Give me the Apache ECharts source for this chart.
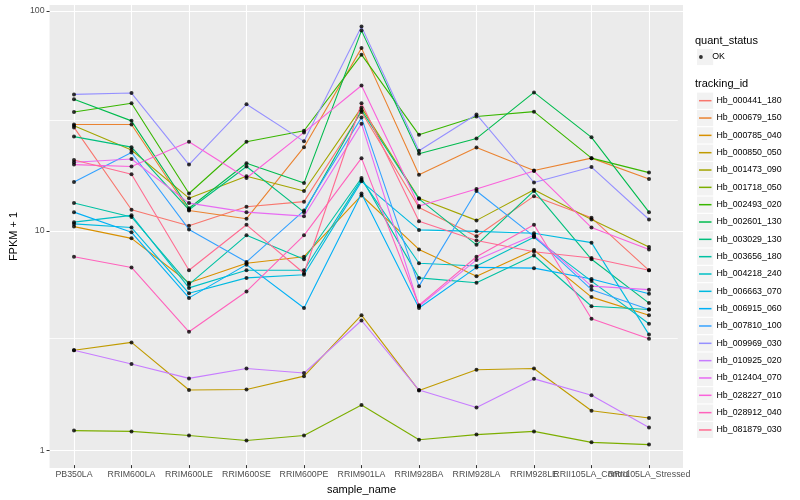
<!DOCTYPE html>
<html><head><meta charset="utf-8">
<script src="https://cdn.jsdelivr.net/npm/echarts@6/dist/echarts.min.js"></script>
<style>html,body{margin:0;padding:0;background:#fff}#c{width:800px;height:500px}</style>
</head><body><div id="c"></div>
<script>
const categories = ['PB350LA','RRIM600LA','RRIM600LE','RRIM600SE','RRIM600PE','RRIM901LA','RRIM928BA','RRIM928LA','RRIM928LE','RRII105LA_Control','RRII105LA_Stressed'];
const trackingIds = ['Hb_000441_180','Hb_000679_150','Hb_000785_040','Hb_000850_050','Hb_001473_090','Hb_001718_050','Hb_002493_020','Hb_002601_130','Hb_003029_130','Hb_003656_180','Hb_004218_240','Hb_006663_070','Hb_006915_060','Hb_007810_100','Hb_009969_030','Hb_010925_020','Hb_012404_070','Hb_028227_010','Hb_028912_040','Hb_081879_030'];
const yTicks = [1, 10, 100];
const yMinorTicks = [3.1623, 31.623];

const Hb_000441_180 = [29.3, 12.3, 10.4, 12.7, 13.4, 34.5, 12.6, 9.3, 14.2, 11.3, 6.5];
const Hb_000679_150 = [30.2, 30.2, 12.2, 11.2, 23.8, 67.6, 17.8, 23.7, 18.6, 21.2, 17.0];
const Hb_000785_040 = [10.3, 9.1, 5.7, 7.0, 7.5, 14.3, 8.1, 6.1, 8.05, 4.9, 4.05];
const Hb_000850_050 = [2.80, 3.04, 1.84, 1.85, 2.13, 4.05, 1.83, 2.28, 2.31, 1.48, 1.37];
const Hb_001473_090 = [29.8, 23.1, 13.9, 17.5, 15.0, 36.1, 13.9, 11.0, 15.2, 11.1, 8.3];
const Hb_001718_050 = [1.20, 1.19, 1.14, 1.08, 1.14, 1.57, 1.09, 1.15, 1.19, 1.06, 1.035];
const Hb_002493_020 = [34.5, 37.8, 14.6, 25.2, 28.3, 63.1, 27.1, 32.9, 34.6, 21.2, 18.2];
const Hb_002601_130 = [39.4, 31.4, 12.5, 20.1, 16.3, 81.3, 22.2, 26.1, 42.4, 26.4, 12.0];
const Hb_003029_130 = [26.6, 23.8, 12.3, 19.4, 12.0, 35.1, 13.8, 8.5, 15.0, 7.3, 4.6];
const Hb_003656_180 = [13.2, 11.4, 5.6, 9.4, 7.3, 17.2, 6.0, 5.7, 7.6, 4.45, 4.3];
const Hb_004218_240 = [10.8, 11.6, 5.4, 6.5, 6.5, 16.9, 7.0, 6.8, 9.2, 5.8, 3.7];
const Hb_006663_070 = [10.6, 10.2, 5.1, 6.0, 6.2, 16.6, 9.95, 9.8, 9.6, 8.7, 3.3];
const Hb_006915_060 = [12.0, 9.7, 4.86, 6.9, 4.37, 14.6, 4.37, 6.7, 6.65, 5.93, 5.08];
const Hb_007810_100 = [16.5, 22.5, 10.0, 7.1, 12.2, 32.5, 5.5, 15.0, 9.3, 5.3, 4.3];
const Hb_009969_030 = [41.5, 42.1, 19.8, 37.4, 25.3, 84.8, 22.9, 33.6, 16.4, 19.3, 11.1];
const Hb_010925_020 = [2.80, 2.42, 2.08, 2.31, 2.20, 3.83, 1.84, 1.53, 2.07, 1.74, 1.24];
const Hb_012404_070 = [20.3, 21.0, 13.2, 12.0, 11.5, 30.5, 4.45, 7.25, 9.4, 5.5, 5.3];
const Hb_028227_010 = [19.8, 19.4, 25.2, 17.2, 27.8, 45.6, 12.8, 15.3, 18.5, 10.2, 8.1];
const Hb_028912_040 = [7.5, 6.7, 3.4, 5.2, 9.4, 21.2, 4.5, 7.5, 10.5, 3.9, 3.16];
const Hb_081879_030 = [20.8, 17.9, 6.5, 10.5, 6.3, 37.8, 10.9, 8.9, 7.9, 7.4, 6.5];

const seriesValues = [Hb_000441_180, Hb_000679_150, Hb_000785_040, Hb_000850_050, Hb_001473_090, Hb_001718_050, Hb_002493_020, Hb_002601_130, Hb_003029_130, Hb_003656_180, Hb_004218_240, Hb_006663_070, Hb_006915_060, Hb_007810_100, Hb_009969_030, Hb_010925_020, Hb_012404_070, Hb_028227_010, Hb_028912_040, Hb_081879_030];

const palette = ['#F8766D','#EA8331','#D89000','#C09B00','#A3A500','#7CAE00','#39B600','#00BB4E','#00BF7D','#00C1A3','#00BFC4','#00BAE0','#00B0F6','#35A2FF','#9590FF','#C77CFF','#E76BF3','#FA62DB','#FF62BC','#FF6C91'];
const FONT = '"Liberation Sans", Arial, Helvetica, sans-serif';
const yMin = 0.834, yMax = 106.5;

const lineSeries = trackingIds.map((id, i) => ({
  name: id, type: 'line', xAxisIndex: 1, yAxisIndex: 1,
  data: seriesValues[i], symbol: 'none', showSymbol: false, silent: true,
  lineStyle: { color: palette[i], width: 1.1 }, itemStyle: { color: palette[i] }, z: 2
}));
// first series carries the minor horizontal grid lines (drawn beneath all data lines)
lineSeries[0].markLine = {
  silent: true, symbol: 'none', animation: false, label: { show: false }, z: 1,
  lineStyle: { color: '#FFFFFF', width: 0.8, type: 'solid', opacity: 1 },
  emphasis: { disabled: true },
  data: yMinorTicks.map(v => ({ yAxis: v }))
};
const pointData = [];
seriesValues.forEach(arr => arr.forEach((v, j) => pointData.push([j, v])));

const keyBoxes = [];
keyBoxes.push({ type: 'rect', left: 697, top: 57 - 8.1, shape: { width: 16.2, height: 16.2 }, style: { fill: '#F2F2F2' }, z: 0, silent: true });
trackingIds.forEach((id, k) => {
  keyBoxes.push({ type: 'rect', left: 697, top: 100.7 + 17.33 * k - 8.1, shape: { width: 16.2, height: 16.2 }, style: { fill: '#F2F2F2' }, z: 0, silent: true });
});

const chart = echarts.init(document.getElementById('c'));
chart.setOption({
  animation: false,
  backgroundColor: '#fff',
  textStyle: { fontFamily: FONT },
  title: [
    { text: 'quant_status', left: 695, top: 35, padding: 0, textStyle: { fontSize: 11, fontWeight: 'normal', color: '#000', fontFamily: FONT } },
    { text: 'tracking_id', left: 695, top: 78.5, padding: 0, textStyle: { fontSize: 11, fontWeight: 'normal', color: '#000', fontFamily: FONT } }
  ],
  graphic: keyBoxes,
  legend: [
    { data: ['OK'], left: 699, top: 51, orient: 'vertical', icon: 'circle', itemWidth: 12.5, itemHeight: 3.8, padding: 0, selectedMode: false,
      textStyle: { fontSize: 8.8, color: '#000', lineHeight: 12, fontFamily: FONT } },
    { data: trackingIds, left: 699, top: 94.7, orient: 'vertical', icon: 'rect', itemWidth: 12.5, itemHeight: 1.5, itemGap: 5.33, padding: 0, selectedMode: false,
      textStyle: { fontSize: 8.8, color: '#000', lineHeight: 12, fontFamily: FONT } }
  ],
  grid: [
    { left: 40, right: 117, top: 5, bottom: 32, show: true, backgroundColor: '#EBEBEB', borderWidth: 0 },
    { left: 45.25, right: 122.25, top: 5, bottom: 32 }
  ],
  xAxis: [
    { gridIndex: 0, type: 'value', min: 0, max: 1, show: false },
    { gridIndex: 1, type: 'category', data: categories, boundaryGap: true,
      axisLine: { show: false },
      axisTick: { show: true, alignWithLabel: true, length: 3, lineStyle: { color: '#333333', width: 1 } },
      axisLabel: { interval: 0, hideOverlap: false, color: '#4D4D4D', fontSize: 8.8, margin: 5, fontFamily: FONT },
      splitLine: { show: true, alignWithLabel: true, lineStyle: { color: '#FFFFFF', width: 1.1 } },
      name: 'sample_name', nameLocation: 'middle', nameGap: 14,
      nameTextStyle: { color: '#000', fontSize: 11, fontFamily: FONT } }
  ],
  yAxis: [
    { gridIndex: 0, type: 'log', logBase: 10, min: yMin, max: yMax, position: 'left',
      axisLine: { show: false },
      axisTick: { show: true, length: 3, customValues: yTicks, lineStyle: { color: '#333333', width: 1 } },
      axisLabel: { customValues: yTicks, color: '#4D4D4D', fontSize: 8.8, margin: 5, fontFamily: FONT,
        formatter: v => { const r = Math.round(v); return yTicks.includes(r) && Math.abs(v - r) < 1e-6 ? String(r) : ''; } },
      splitLine: { show: true, lineStyle: { color: '#FFFFFF', width: 1.2 } },
      name: 'FPKM + 1', nameLocation: 'middle', nameGap: 22,
      nameTextStyle: { color: '#000', fontSize: 11, fontFamily: FONT } },
    { gridIndex: 1, type: 'log', logBase: 10, min: yMin, max: yMax, show: false }
  ],
  series: lineSeries.concat([{
    name: 'OK', type: 'scatter', xAxisIndex: 1, yAxisIndex: 1, data: pointData,
    symbol: 'circle', symbolSize: 4, itemStyle: { color: '#000' }, silent: true, z: 5
  }])
});
</script>
</body></html>
